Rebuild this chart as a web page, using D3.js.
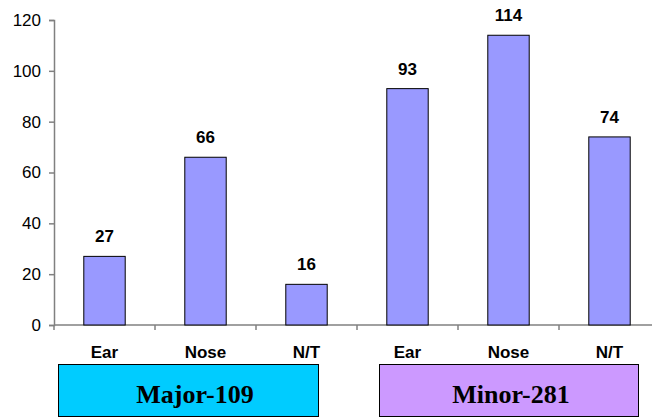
<!DOCTYPE html>
<html>
<head>
<meta charset="utf-8">
<script src="https://cdn.jsdelivr.net/npm/d3@7/dist/d3.min.js"></script>
<style>
  html, body { margin: 0; padding: 0; background: #fff; }
  svg { display: block; }
</style>
</head>
<body>
<svg id="chart" width="652" height="418"></svg>
<script>
// Site of cases, split into major and minor groups
const categories = ["Ear", "Nose", "N/T", "Ear ", "Nose ", "N/T "];
const values = [27, 66, 16, 93, 114, 74];
const yTicks = [0, 20, 40, 60, 80, 100, 120];
const groups = [
  { label: "Major-109", fill: "#00CCFF" },
  { label: "Minor-281", fill: "#CC99FF" }
];

const svg = d3.select("#chart");
const plotLeft = 54, plotRight = 660, plotTop = 20, plotBottom = 325;

const x = d3.scaleBand().domain(categories).range([plotLeft, plotRight]).paddingInner(0.59).paddingOuter(0.295);
const y = d3.scaleLinear().domain([0, 120]).range([plotBottom, plotTop]);
const step = x.step();

// y axis
const yAxis = svg.append("g")
  .attr("transform", `translate(${plotLeft},0)`)
  .call(d3.axisLeft(y).tickValues(yTicks).tickSize(5).tickPadding(8));
yAxis.select(".domain").attr("stroke", "#808080").attr("stroke-width", 1.5);
yAxis.selectAll(".tick line").attr("stroke", "#808080").attr("stroke-width", 1.5);
yAxis.selectAll(".tick text")
  .attr("font-family", "Liberation Sans, Arial, sans-serif")
  .attr("font-size", 17).attr("fill", "#000");

// x axis line with boundary ticks between categories
svg.append("line")
  .attr("x1", plotLeft).attr("x2", plotRight)
  .attr("y1", plotBottom).attr("y2", plotBottom)
  .attr("stroke", "#808080").attr("stroke-width", 1.5);
const boundaries = d3.range(categories.length + 1).map(i => plotLeft + i * step);
svg.selectAll(".xtick").data(boundaries).join("line")
  .attr("x1", d => d).attr("x2", d => d)
  .attr("y1", plotBottom).attr("y2", plotBottom + 5)
  .attr("stroke", "#808080").attr("stroke-width", 1.5);

// category labels
svg.selectAll(".xlabel").data(categories).join("text")
  .attr("x", d => x(d) + x.bandwidth() / 2)
  .attr("y", 357.5)
  .attr("text-anchor", "middle")
  .attr("font-family", "Liberation Sans, Arial, sans-serif")
  .attr("font-weight", "bold").attr("font-size", 17)
  .text(d => d.trim());

// bars
svg.selectAll(".bar").data(values).join("rect")
  .attr("x", (d, i) => x(categories[i]))
  .attr("width", x.bandwidth())
  .attr("y", d => y(d))
  .attr("height", d => y(0) - y(d))
  .attr("fill", "#9999FF")
  .attr("stroke", "#000").attr("stroke-width", 1);

// value labels
svg.selectAll(".val").data(values).join("text")
  .attr("x", (d, i) => x(categories[i]) + x.bandwidth() / 2)
  .attr("y", d => y(d) - 14)
  .attr("text-anchor", "middle")
  .attr("font-family", "Liberation Sans, Arial, sans-serif")
  .attr("font-weight", "bold").attr("font-size", 17)
  .text(d => d);

// group boxes under the categories: [left, right, label centre]
const boxes = [[58, 318, 195], [379, 638, 511]];
groups.forEach((g, i) => {
  const [bx0, bx1, tx] = boxes[i];
  svg.append("rect")
    .attr("x", bx0 + 0.5).attr("y", 364.5)
    .attr("width", bx1 - bx0).attr("height", 52)
    .attr("fill", g.fill).attr("stroke", "#000").attr("stroke-width", 1);
  svg.append("text")
    .attr("x", tx).attr("y", 403)
    .attr("text-anchor", "middle")
    .attr("font-family", "Liberation Serif, Times New Roman, serif")
    .attr("font-weight", "bold").attr("font-size", 26)
    .text(g.label);
});
</script>
</body>
</html>
